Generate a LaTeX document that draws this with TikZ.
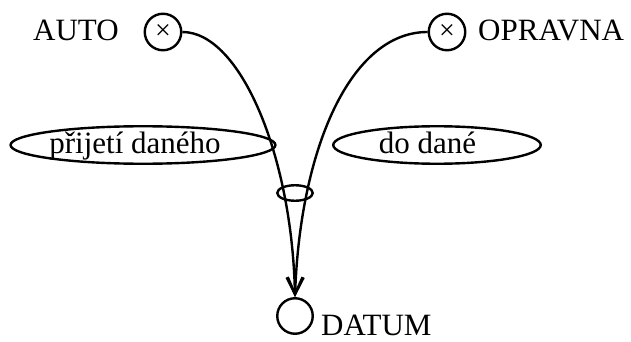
\documentclass[tikz,border=0pt]{standalone}
\usepackage{fontspec}
\setmainfont{Liberation Serif}
\usetikzlibrary{shapes.geometric,arrows.meta}

\begin{document}
\begin{tikzpicture}[x=1pt, y=-1pt, line width=2.4pt,
  every node/.style={font=\fontsize{31}{36}\selectfont, inner sep=0pt},
  ent/.style={circle, draw, minimum size=36.5pt},
  rel/.style={ellipse, draw, text height=16pt, text depth=0pt},
  conn/.style={-{Straight Barb[length=17pt,width=16pt]}}]
\useasboundingbox (0,0) rectangle (631,342);
\node[ent, font=\fontsize{28}{30}\selectfont] (auto) at (163,32) {×};
\node[ent, font=\fontsize{28}{30}\selectfont] (opravna) at (447,32) {×};
\node[ent, minimum size=35.5pt] (datum) at (295,316) {};
\node[anchor=base west] (autolab) at (32,41) {AUTO};
\node[anchor=base west] (opravnalab) at (477,41) {OPRAVNA};
\node[anchor=base west] (datumlab) at (320,335) {DATUM};
\node[rel, minimum width=264.5pt, minimum height=37.5pt] (prijeti) at (143,145) {přijetí daného\kern16pt};
\node[rel, minimum width=207.5pt, minimum height=37.5pt] (dodane) at (437,145) {do dané\kern19pt};
\node[ellipse, draw, minimum width=35.5pt, minimum height=15.5pt] (junc) at (295,193) {};
\draw[conn] (auto.east) .. controls (240,32) and (292,155) .. (datum.north);
\draw[conn] (opravna.west) .. controls (350,32) and (300,150) .. (datum.north);
\end{tikzpicture}
\end{document}
